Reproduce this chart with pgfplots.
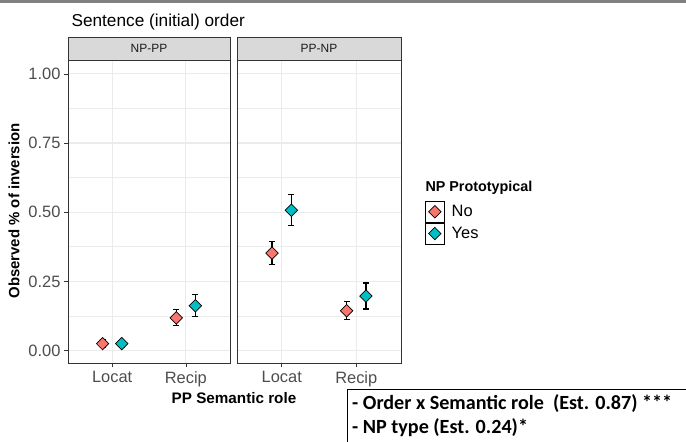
\documentclass[border=0pt]{standalone}
\usepackage{pgfplots}
\usepackage{pgfplotstable}
\pgfplotsset{compat=1.18}
\usepackage{fontspec}
\setmainfont{Liberation Sans}
\newfontfamily\carlito{Carlito}
\definecolor{cNo}{HTML}{F8766D}
\definecolor{cYes}{HTML}{00BFC4}
\definecolor{gridc}{HTML}{EBEBEB}
\definecolor{g20}{HTML}{333333}
\definecolor{g30}{HTML}{4D4D4D}
\definecolor{g10}{HTML}{1A1A1A}
\definecolor{stripc}{HTML}{D9D9D9}

% NP-PP panel
\pgfplotstableread{
x y ep em
0.87 0.025 0.013 0.013
1.87 0.118 0.030 0.028
}\npppNo
\pgfplotstableread{
x y ep em
1.13 0.025 0.012 0.012
2.13 0.162 0.040 0.038
}\npppYes
% PP-NP panel
\pgfplotstableread{
x y ep em
0.87 0.352 0.041 0.041
1.87 0.144 0.034 0.032
}\ppnpNo
\pgfplotstableread{
x y ep em
1.13 0.507 0.056 0.055
2.13 0.197 0.047 0.047
}\ppnpYes

\pgfplotsset{
  panel/.style={
    width=162bp, height=303bp, scale only axis,
    xmin=0.4, xmax=2.6, ymin=-0.045, ymax=1.05,
    xtick={1,2}, xticklabels={Locat,Recip},
    ytick={0,0.25,0.5,0.75,1}, minor ytick={0.125,0.375,0.625,0.875},
    yticklabels={0.00,0.25,0.50,0.75,1.00},
    grid=both,
    major grid style={gridc, line width=1.3bp},
    minor grid style={gridc, line width=0.8bp},
    axis line style={g20, line width=0.6bp},
    tick style={g20, line width=0.6bp},
    tick align=outside, major tick length=4bp, minor tick length=0pt,
    tick pos=left,
    ticklabel style={font=\fontsize{16.5}{18}\selectfont, text=g30},
    xticklabel style={yshift=-1bp},
    clip=false,
  },
  pts/.style={only marks, mark=square*, mark size=4.4bp,
    mark options={rotate=45, draw=black, line width=0.7bp, fill=#1}},
  ebar/.style={draw=none, forget plot,
    error bars/.cd, y dir=both, y explicit, error mark=-,
    error mark options={draw=black, rotate=90, mark size=3bp, line width=1.2bp},
    error bar style={draw=black, solid, line width=1.2bp}},
}

\begin{document}
\begin{tikzpicture}
\useasboundingbox (0,0) rectangle (686bp,-442bp);
\fill[fill={rgb,255:red,128;green,128;blue,128}] (0,0) rectangle (686bp,-2.5bp);

\begin{axis}[panel, at={(68bp,-363bp)}, anchor=south west]
\addplot[pts=cNo] table[x=x,y=y] {\npppNo};
\addplot[pts=cYes] table[x=x,y=y] {\npppYes};
\addplot[ebar] table[x=x,y=y,y error plus=ep,y error minus=em] {\npppNo};
\addplot[ebar] table[x=x,y=y,y error plus=ep,y error minus=em] {\npppYes};
\draw[g20, fill=stripc, line width=0.6bp] (rel axis cs:0,1) rectangle ([yshift=23bp]rel axis cs:1,1);
\node[font=\fontsize{12}{14}\selectfont, text=g10] at ([yshift=11.5bp]rel axis cs:0.5,1) {NP-PP};
\end{axis}

\begin{axis}[panel, at={(237bp,-363bp)}, anchor=south west, width=164bp,
  yticklabels={}, ytick style={draw=none},
  legend style={at={(axis description cs:1.146,0.535)}, anchor=north west,
    draw=none, fill=none, inner sep=0pt, outer sep=0pt, row sep=0pt, column sep=7bp,
    font=\fontsize{16.5}{18}\selectfont, nodes={inner sep=0pt, outer sep=0pt}},
  legend cell align=left,
  legend image code/.code={
    \draw[black, line width=0.8bp, fill=white] (0bp,-10.5bp) rectangle (19bp,10.5bp);
    \draw[#1] plot coordinates {(9.5bp,0bp)};
  }]
\addplot[pts=cNo] table[x=x,y=y] {\ppnpNo};
\addlegendentry{No}
\addplot[pts=cYes] table[x=x,y=y] {\ppnpYes};
\addlegendentry{Yes}
\addplot[ebar] table[x=x,y=y,y error plus=ep,y error minus=em] {\ppnpNo};
\addplot[ebar] table[x=x,y=y,y error plus=ep,y error minus=em] {\ppnpYes};
\draw[g20, fill=stripc, line width=0.6bp] (rel axis cs:0,1) rectangle ([yshift=23bp]rel axis cs:1,1);
\node[font=\fontsize{12}{14}\selectfont, text=g10] at ([yshift=11.5bp]rel axis cs:0.5,1) {PP-NP};
\end{axis}

\node[anchor=base west, font=\fontsize{17.3}{19}\selectfont] at (68bp,-26bp) {Sentence (initial) order};
\node[rotate=90, font=\bfseries\fontsize{15}{17}\selectfont] at (14bp,-211bp) {Observed \% of inversion};
\node[anchor=base, font=\bfseries\fontsize{15.3}{17}\selectfont] at (234bp,-403bp) {PP Semantic role};
\node[anchor=base west, font=\bfseries\fontsize{14.4}{16}\selectfont] at (422bp,-191bp) {NP Prototypical};

\draw[black, line width=1bp] (347bp,-442bp) -- (347bp,-389bp) -- (686bp,-389bp);
\node[anchor=base west, inner sep=0pt, font=\carlito\bfseries\fontsize{20.2}{22}\selectfont] at (352bp,-409bp) {- Order x Semantic role\ \ (Est. 0.87) ***};
\node[anchor=base west, inner sep=0pt, font=\carlito\bfseries\fontsize{20.2}{22}\selectfont] at (352bp,-433bp) {- NP type (Est. 0.24)*};
\end{tikzpicture}
\end{document}
